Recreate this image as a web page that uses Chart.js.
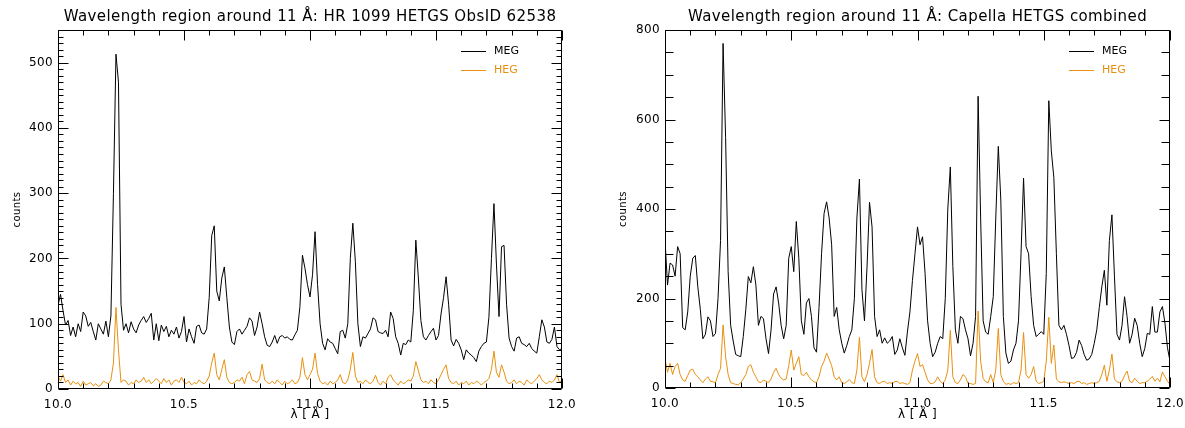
<!DOCTYPE html>
<html>
<head>
<meta charset="utf-8">
<title>HETGS spectra around 11 Å</title>
<script src="https://cdn.jsdelivr.net/npm/chart.js@4.4.1/dist/chart.umd.min.js"></script>
<style>
  html, body { margin: 0; padding: 0; background: #fff; overflow: hidden; }
  #wrap { position: relative; width: 1185px; height: 428px; }
  .panel { position: absolute; top: 0; height: 428px; }
  #left { left: 0; width: 600px; }
  #right { left: 600px; width: 585px; }
</style>
</head>
<body>
<div id="wrap">
  <div class="panel" id="left"><canvas id="hr1099"></canvas></div>
  <div class="panel" id="right"><canvas id="capella"></canvas></div>
</div>
<script>
'use strict'

// wavelength bins, 0.01 A wide, 10.00 .. 12.00
const lambda = Array.from({length: 201}, (_, i) => +(10 + i * 0.01).toFixed(2));

// HR 1099, ObsID 62538
const hr_meg = [
  128, 145, 120, 98, 105, 82, 95, 80, 100, 88,
  118, 112, 96, 102, 88, 75, 100, 92, 84, 104,
  80, 112, 300, 513, 470, 130, 90, 100, 86, 103,
  92, 86, 98, 105, 111, 102, 108, 116, 75, 100,
  74, 98, 88, 96, 80, 90, 84, 95, 78, 88,
  111, 72, 92, 80, 70, 96, 98, 86, 84, 92,
  140, 235, 250, 150, 135, 170, 187, 140, 95, 72,
  68, 88, 92, 84, 90, 96, 109, 104, 82, 95,
  118, 100, 80, 67, 65, 72, 82, 70, 80, 82,
  78, 80, 76, 75, 83, 90, 126, 205, 185, 160,
  141, 175, 241, 160, 100, 70, 60, 77, 72, 70,
  62, 54, 88, 90, 78, 100, 200, 254, 195, 100,
  65, 80, 78, 85, 92, 109, 106, 88, 86, 85,
  90, 80, 118, 108, 80, 70, 52, 70, 68, 75,
  72, 120, 228, 170, 105, 80, 75, 82, 88, 93,
  75, 82, 115, 140, 172, 130, 75, 66, 76, 70,
  60, 45, 60, 55, 52, 48, 42, 58, 65, 70,
  72, 110, 200, 284, 190, 111, 218, 220, 130, 78,
  65, 58, 78, 80, 70, 68, 65, 70, 62, 58,
  55, 80, 106, 95, 72, 70, 76, 95, 65, 60,
  62
];
const hr_heg = [
  20, 12, 22, 10, 14, 6, 12, 8, 10, 4,
  12, 6, 8, 10, 5, 8, 4, 6, 12, 10,
  8, 14, 40, 125, 60, 10, 14, 12, 6, 10,
  8, 14, 10, 12, 18, 10, 14, 8, 12, 16,
  12, 8, 16, 10, 14, 6, 12, 14, 10, 18,
  10, 8, 12, 6, 10, 8, 14, 10, 8, 12,
  20, 40, 55, 22, 14, 30, 45, 18, 10, 8,
  10, 14, 12, 18, 8, 22, 27, 14, 12, 10,
  16, 38, 14, 10, 8, 12, 8, 14, 10, 6,
  12, 8, 10, 14, 8, 10, 18, 48, 22, 14,
  22, 30, 55, 24, 12, 8, 10, 6, 12, 8,
  10, 14, 22, 10, 8, 14, 30, 56, 20, 10,
  12, 8, 14, 10, 8, 12, 21, 10, 6, 12,
  8, 18, 22, 14, 10, 6, 12, 8, 10, 14,
  12, 20, 42, 28, 14, 10, 12, 8, 14, 10,
  8, 14, 22, 30, 37, 16, 10, 8, 12, 6,
  10, 8, 12, 6, 10, 8, 12, 10, 6, 10,
  12, 16, 30, 58, 25, 18, 37, 26, 12, 8,
  10, 14, 8, 12, 10, 6, 14, 10, 8, 12,
  16, 22, 14, 10, 8, 12, 10, 14, 22, 10,
  14
];

// Capella, combined
const cap_meg = [
  331, 230, 279, 275, 250, 316, 300, 135, 130, 170,
  250, 290, 296, 226, 175, 110, 120, 159, 150, 115,
  122, 200, 330, 770, 560, 260, 140, 105, 75, 72,
  70, 115, 175, 249, 235, 271, 230, 140, 160, 155,
  110, 77, 130, 210, 226, 190, 140, 110, 140, 290,
  316, 260, 372, 290, 150, 120, 190, 200, 160, 90,
  80, 180, 300, 390, 416, 380, 320, 160, 180, 130,
  100, 78, 95, 115, 130, 200, 380, 467, 220, 150,
  270, 415, 360, 160, 115, 130, 100, 112, 100, 105,
  115, 75, 85, 110, 90, 73, 125, 170, 240, 300,
  360, 320, 338, 256, 150, 100, 70, 80, 100, 115,
  110, 200, 400, 494, 271, 130, 100, 160, 155, 130,
  110, 72, 100, 160, 652, 380, 150, 125, 120, 160,
  204, 380, 540, 420, 160, 78, 55, 60, 85, 100,
  150, 300, 469, 316, 300, 204, 140, 115, 120, 126,
  120, 256, 642, 530, 470, 300, 140, 130, 140, 120,
  95, 66, 68, 80, 107, 95, 75, 62, 65, 75,
  100, 130, 180, 226, 263, 185, 330, 387, 250, 120,
  107, 140, 204, 160, 100, 120, 156, 140, 100, 70,
  88, 122, 120, 182, 125, 125, 170, 182, 145, 90,
  60
];
const cap_heg = [
  65, 35, 55, 30, 48, 55, 30, 18, 15, 28,
  40, 42, 30, 25, 18, 12, 20, 25, 15, 14,
  12, 30, 44, 141, 70, 30, 12, 10, 8, 7,
  12, 20, 30, 48, 52, 35, 25, 14, 12, 18,
  15, 12, 20, 35, 44, 30, 22, 18, 20, 50,
  85, 40, 55, 70, 30, 28, 35, 25, 18, 14,
  12, 25, 48, 60, 78, 65, 50, 25, 18, 25,
  12, 10, 14, 19, 12, 10, 40, 113, 25, 14,
  30, 55, 86, 25, 12, 10, 14, 15, 10, 12,
  10, 14, 15, 10, 12, 10, 8, 12, 40, 60,
  77, 48, 52, 35, 18, 10, 10, 14, 25, 15,
  10, 18, 40, 129, 25, 12, 10, 18, 30, 25,
  10, 10, 8, 10, 172, 60, 21, 14, 12, 30,
  12, 40, 133, 30, 15, 8, 10, 8, 12, 10,
  12, 40, 124, 30, 22, 30, 48, 15, 10, 12,
  15, 60, 158, 55, 96, 20, 14, 12, 14, 12,
  10, 12, 10, 14, 15, 10, 12, 8, 10, 12,
  10, 12, 15, 30, 51, 15, 40, 76, 20, 14,
  12, 15, 28, 38, 15, 12, 22, 15, 10, 12,
  12, 15, 20, 26, 15, 22, 14, 36, 25, 15,
  8
];

const megColor = '#000000';
const hegColor = '#e8900f';
const fontFamily = "'DejaVu Sans', sans-serif";

const toPoints = (vals) => vals.map((v, i) => ({x: lambda[i], y: v}));

// the IDL-style lettering is a little wider than DejaVu
const spacing = {
    id: 'spacing',
    beforeDraw(chart) { chart.ctx.letterSpacing = '0.4px'; },
    afterDraw(chart) { chart.ctx.letterSpacing = '0px'; }
};

// box round the plot area with inward ticks on all four sides
const frame = {
    id: 'frame',
    afterDatasetsDraw(chart, args, opts) {
        const {ctx, chartArea: a, scales: {x, y}} = chart;
        const L = Math.round(a.left) + 0.5, R = Math.round(a.right) - 0.5;
        const T = Math.round(a.top) + 0.5, B = Math.round(a.bottom) - 0.5;
        ctx.save();
        ctx.strokeStyle = '#000';
        ctx.lineWidth = 1;
        ctx.beginPath();
        ctx.rect(L, T, R - L, B - T);
        for (let i = 0; i <= 20; i++) {
            const px = Math.round(x.getPixelForValue(10 + i * 0.1)) + 0.5;
            const len = i % 5 === 0 ? opts.xMajor : opts.xMinor;
            ctx.moveTo(px, B); ctx.lineTo(px, B - len);
            ctx.moveTo(px, T); ctx.lineTo(px, T + len);
        }
        for (let v = 0; v <= y.max; v += opts.yStep) {
            const py = Math.round(y.getPixelForValue(v)) + 0.5;
            const len = v % opts.yMajorStep === 0 ? opts.yMajor : opts.yMinor;
            ctx.moveTo(L, py); ctx.lineTo(L + len, py);
            ctx.moveTo(R, py); ctx.lineTo(R - len, py);
        }
        ctx.stroke();
        ctx.restore();
    }
};

// small legend in the upper right corner of the plot area
const cornerLegend = {
    id: 'cornerLegend',
    afterDraw(chart, args, opts) {
        const {ctx, chartArea: a} = chart;
        ctx.save();
        ctx.font = `11px ${fontFamily}`;
        ctx.textBaseline = 'middle';
        chart.data.datasets.forEach((ds, i) => {
            const yy = Math.round(a.top + opts.top + i * opts.gap) + 0.5;
            ctx.strokeStyle = ds.borderColor;
            ctx.lineWidth = 1;
            ctx.beginPath();
            ctx.moveTo(a.right - opts.lineStart, yy);
            ctx.lineTo(a.right - opts.lineEnd, yy);
            ctx.stroke();
            ctx.fillStyle = ds.borderColor;
            ctx.fillText(ds.label, a.right - opts.textAt, yy);
        });
        ctx.restore();
    }
};

const makeChart = (id, title, meg, heg, yMax, yStep, yMinorStep, yWidth, padRight, xHeight, ylabelPad) => {
    const ctx = document.getElementById(id).getContext('2d');
    return new Chart(ctx, {
        type: 'line',
        data: {
            datasets: [{
                label: 'MEG',
                data: toPoints(meg),
                borderColor: megColor,
                borderWidth: 1,
                pointRadius: 0,
                tension: 0,
                order: 2
            }, {
                label: 'HEG',
                data: toPoints(heg),
                borderColor: hegColor,
                borderWidth: 1,
                pointRadius: 0,
                tension: 0,
                order: 1
            }]
        },
        options: {
            responsive: true,
            maintainAspectRatio: false,
            animation: false,
            events: [],
            layout: {padding: {top: 0, right: padRight, bottom: 0, left: 0}},
            scales: {
                x: {
                    type: 'linear',
                    min: 10,
                    max: 12,
                    grid: {display: false, drawTicks: false},
                    border: {display: false},
                    ticks: {
                        stepSize: 0.5,
                        maxRotation: 0,
                        autoSkip: false,
                        padding: 9,
                        color: '#000',
                        font: {family: fontFamily, size: 12},
                        callback: (v) => v.toFixed(1)
                    },
                    title: {
                        display: true,
                        text: 'λ [ Å ]',
                        color: '#000',
                        font: {family: fontFamily, size: 12},
                        padding: {top: 0, bottom: 6}
                    },
                    afterFit: (scale) => {
                        scale.height = xHeight;
                        scale.paddingLeft = 0;
                        scale.paddingRight = 0;
                    }
                },
                y: {
                    min: 0,
                    max: yMax,
                    grid: {display: false, drawTicks: false},
                    border: {display: false},
                    ticks: {
                        stepSize: yStep,
                        includeBounds: false,
                        padding: 5,
                        color: '#000',
                        font: {family: fontFamily, size: 12}
                    },
                    title: {
                        display: true,
                        text: 'counts',
                        color: '#000',
                        font: {family: fontFamily, size: 10},
                        padding: {top: ylabelPad, bottom: 0}
                    },
                    afterFit: (scale) => { scale.width = yWidth; }
                }
            },
            plugins: {
                legend: {display: false},
                tooltip: {enabled: false},
                title: {
                    display: true,
                    text: title,
                    fullSize: false,
                    color: '#000',
                    font: {family: fontFamily, size: 15, weight: 'normal'},
                    padding: {top: 8, bottom: 4}
                },
                frame: {
                    xMajor: 10, xMinor: 5,
                    yStep: yMinorStep, yMajorStep: yStep,
                    yMajor: 10, yMinor: yMinorStep === 10 ? 5 : 8
                },
                cornerLegend: {top: 21, gap: 19, lineStart: 101, lineEnd: 76, textAt: 68}
            }
        },
        plugins: [spacing, frame, cornerLegend]
    });
};

makeChart('hr1099', 'Wavelength region around 11 Å: HR 1099 HETGS ObsID 62538',
    hr_meg, hr_heg, 550, 100, 10, 58, 38, 39, 11);
makeChart('capella', 'Wavelength region around 11 Å: Capella HETGS combined',
    cap_meg, cap_heg, 800, 200, 50, 65, 15, 40, 17);
</script>
</body>
</html>
